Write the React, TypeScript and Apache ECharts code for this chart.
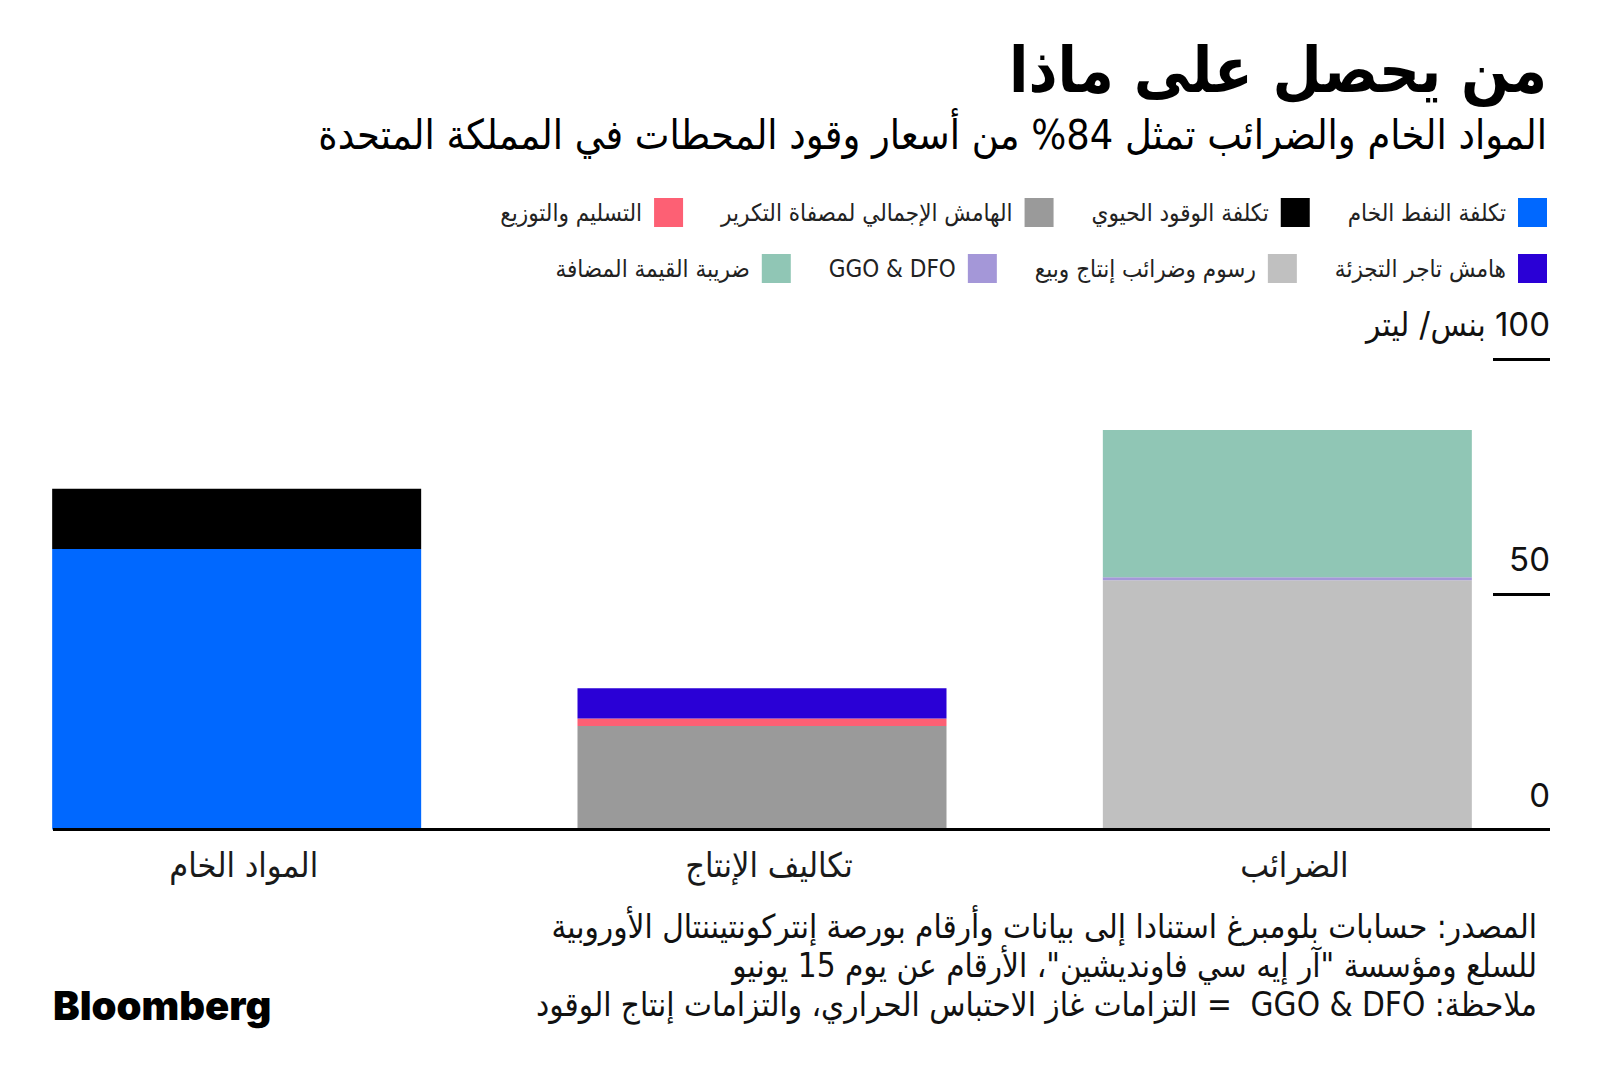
import React, { useEffect, useRef } from "react";
import * as echarts from "echarts";

// ---- data ----
const categories = ["المواد الخام", "تكاليف الإنتاج", "الضرائب"];
const yTicks = [0, 50, 100];
const unitLabel = "بنس/ ليتر";

const crudeOilCost = [59.6, null, null];
const biofuelCost = [12.8, null, null];
const refiningMargin = [null, 22.0, null];
const deliveryDistribution = [null, 1.6, null];
const retailerMargin = [null, 6.4, null];
const dutyTaxes = [null, null, 53.0];
const ggoDfo = [null, null, 0.6];
const vat = [null, null, 31.3];

const seriesNames = [
  "تكلفة النفط الخام",
  "تكلفة الوقود الحيوي",
  "الهامش الإجمالي لمصفاة التكرير",
  "التسليم والتوزيع",
  "هامش تاجر التجزئة",
  "رسوم وضرائب إنتاج وبيع",
  "GGO & DFO",
  "ضريبة القيمة المضافة",
];
const seriesValues = [
  crudeOilCost,
  biofuelCost,
  refiningMargin,
  deliveryDistribution,
  retailerMargin,
  dutyTaxes,
  ggoDfo,
  vat,
];
const seriesColors = [
  "#0068ff",
  "#000000",
  "#9a9a9a",
  "#fd6074",
  "#2a00d6",
  "#c0c0c0",
  "#a497d8",
  "#90c6b5",
];
const legendRow1 = [seriesNames[0], seriesNames[1], seriesNames[2], seriesNames[3]];
const legendRow2 = [seriesNames[4], seriesNames[5], seriesNames[6], seriesNames[7]];

const titleText = "من يحصل على ماذا";
const subtitleText = "المواد الخام والضرائب تمثل 84% من أسعار وقود المحطات في المملكة المتحدة";
const footerLines = [
  "المصدر: حسابات بلومبرغ استنادا إلى بيانات وأرقام بورصة إنتركونتيننتال الأوروبية",
  "للسلع ومؤسسة \"آر إيه سي فاونديشين\"، الأرقام عن يوم 15 يونيو",
  "ملاحظة: GGO & DFO  = التزامات غاز الاحتباس الحراري، والتزامات إنتاج الوقود",
];

const RLE = "\u202B";
const PDF = "\u202C";
const rtl = (s: string) => RLE + s + PDF;

const AR = "'DejaVu Sans Condensed', 'DejaVu Sans', sans-serif";
const NUM = "Inter, 'DejaVu Sans Condensed', sans-serif";

// the chart canvas extends a little past the left edge of the page
const OFF = 26;

export default function App() {
  const ref = useRef<HTMLDivElement>(null);

  useEffect(() => {
    document.body.style.margin = "0";
    document.body.style.overflow = "hidden";
    if (!ref.current) return;
    const chart = echarts.init(ref.current, null, { renderer: "svg" });

    const gridTop = 359;
    const gridBottom = 255.5;
    const baseY = 1085 - gridBottom;

    const legendCommon = {
      right: 53,
      align: "right",
      orient: "horizontal",
      icon: "rect",
      itemWidth: 29,
      itemHeight: 29,
      itemGap: 38,
      padding: 0,
      selectedMode: false,
      textStyle: { fontFamily: AR, fontSize: 24, color: "#222", padding: [0, 7, 0, 0] },
    };

    const option: any = {
      animation: false,
      backgroundColor: "#ffffff",
      grid: { left: 0, right: 50, top: gridTop, bottom: gridBottom, containLabel: false },
      legend: [
        { ...legendCommon, data: legendRow1.slice().reverse(), top: 198 },
        { ...legendCommon, data: legendRow2.slice().reverse(), top: 254 },
      ],
      xAxis: {
        type: "category",
        data: categories,
        axisLine: { show: false },
        axisTick: { show: false },
        axisLabel: {
          fontFamily: AR,
          fontSize: 34,
          color: "#1a1a1a",
          margin: 18,
          padding: [0, 0, 0, 14],
        },
      },
      yAxis: {
        type: "value",
        position: "right",
        min: 0,
        max: 100,
        interval: 50,
        splitLine: { show: false },
        axisLine: { show: false },
        axisTick: { show: true, inside: true, length: 57, lineStyle: { color: "#000", width: 3 } },
        axisLabel: {
          inside: true,
          margin: 0,
          fontFamily: NUM,
          fontSize: 33,
          color: "#111",
          verticalAlign: "bottom",
          lineHeight: 34,
          padding: [0, 0, 18, 0],
          formatter: (v: number) =>
            v === yTicks[yTicks.length - 1] ? rtl(v + " " + unitLabel) : String(v),
        },
      },
      series: seriesNames.map((name, i) => ({
        name,
        type: "bar",
        stack: "total",
        barWidth: 369,
        data: seriesValues[i],
        itemStyle: { color: seriesColors[i] },
        emphasis: { disabled: true },
      })),
      graphic: [
        {
          type: "text",
          x: 1547 + OFF,
          y: 70,
          style: {
            text: titleText,
            align: "right",
            verticalAlign: "middle",
            fontFamily: AR,
            fontWeight: "bold",
            fontSize: 63,
            fill: "#000",
          },
        },
        {
          type: "text",
          x: 1547 + OFF,
          y: 135,
          style: {
            text: rtl(subtitleText),
            align: "right",
            verticalAlign: "middle",
            fontFamily: AR,
            fontSize: 41,
            fill: "#000",
          },
        },
        {
          type: "line",
          shape: { x1: 53 + OFF, y1: baseY, x2: 1549 + OFF, y2: baseY },
          style: { stroke: "#000", lineWidth: 3 },
          z: 100,
        },
        ...footerLines.map((t, i) => ({
          type: "text",
          x: 1537 + OFF,
          y: 926 + i * 39,
          style: {
            text: rtl(t),
            align: "right",
            verticalAlign: "middle",
            fontFamily: AR,
            fontSize: 33,
            fill: "#111",
          },
        })),
        {
          type: "text",
          x: 53 + OFF,
          y: 1005,
          style: {
            text: "Bloomberg",
            align: "left",
            verticalAlign: "middle",
            fontFamily: "Inter, 'Liberation Sans', sans-serif",
            fontWeight: 900,
            fontSize: 40,
            fill: "#000",
          },
        },
      ],
    };
    chart.setOption(option);
    return () => chart.dispose();
  }, []);

  return (
    <div
      ref={ref}
      style={{ position: "absolute", left: -OFF, top: 0, width: 1600 + OFF, height: 1085 }}
    />
  );
}
